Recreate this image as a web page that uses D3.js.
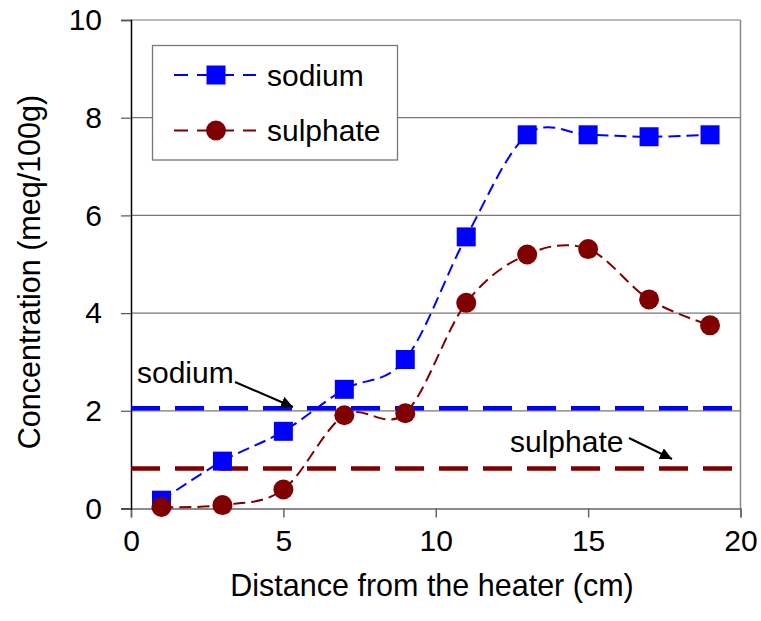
<!DOCTYPE html>
<html>
<head>
<meta charset="utf-8">
<script src="https://cdn.jsdelivr.net/npm/d3@7"></script>
<style>
  body { margin: 0; background: #fff; }
  text { font-family: "Liberation Sans", Arial, sans-serif; fill: #000; }
</style>
</head>
<body>
<svg id="chart" width="761" height="621"></svg>
<script>
// data
const distance = [1, 3, 5, 7, 9, 11, 13, 15, 17, 19]
const sodium = [0.17, 0.97, 1.58, 2.44, 3.05, 5.56, 7.65, 7.65, 7.61, 7.65]
const sulphate = [0.03, 0.07, 0.39, 1.91, 1.95, 4.21, 5.2, 5.31, 4.28, 3.75]
const initialLevels = [2.05, 0.82]   // sodium, sulphate (dashed horizontal lines)
const xTicks = [0, 5, 10, 15, 20]
const yTicks = [0, 2, 4, 6, 8, 10]

const blue = "#0000ff"
const maroon = "#800000"

const svg = d3.select("#chart")
const x = d3.scaleLinear().domain([0, 20]).range([131, 740.5])
const y = d3.scaleLinear().domain([0, 10]).range([508.5, 20])

// gridlines
svg.selectAll(".grid")
    .data(yTicks.filter(d => d > 0))
    .join("line")
    .attr("x1", x(0)).attr("x2", x(20))
    .attr("y1", d => y(d)).attr("y2", d => y(d))
    .attr("stroke", "#777").attr("stroke-width", 1.2)

// right border
svg.append("line")
    .attr("x1", x(20)).attr("x2", x(20)).attr("y1", y(10)).attr("y2", y(0))
    .attr("stroke", "#888").attr("stroke-width", 1.5)

// x axis
const xAxis = svg.append("g")
    .attr("transform", `translate(0,${y(0)})`)
    .call(d3.axisBottom(x).tickValues(xTicks).tickSize(9).tickPadding(12))
xAxis.select(".domain").attr("stroke", "#666").attr("stroke-width", 1.5)
xAxis.selectAll(".tick line").attr("stroke", "#666").attr("stroke-width", 1.5)
xAxis.selectAll("text").attr("font-size", 30).attr("font-family", "Liberation Sans, Arial, sans-serif").attr("fill", "#000")

// y axis
const yAxis = svg.append("g")
    .attr("transform", `translate(${x(0)},0)`)
    .call(d3.axisLeft(y).tickValues(yTicks).tickSize(10).tickPadding(19))
yAxis.select(".domain").attr("stroke", "#000").attr("stroke-width", 1.5)
yAxis.selectAll(".tick line").attr("stroke", "#555").attr("stroke-width", 1.2)
yAxis.selectAll("text").attr("font-size", 30).attr("font-family", "Liberation Sans, Arial, sans-serif").attr("fill", "#000")

// axis titles
svg.append("text")
    .attr("x", 432).attr("y", 596)
    .attr("text-anchor", "middle").attr("font-size", 30.5)
    .text("Distance from the heater (cm)")
svg.append("text")
    .attr("transform", "translate(40,272) rotate(-90)")
    .attr("text-anchor", "middle").attr("font-size", 30.5)
    .text("Concentration (meq/100g)")

// initial-level reference lines
svg.selectAll(".ref")
    .data(initialLevels)
    .join("line")
    .attr("x1", x(0)).attr("x2", x(20))
    .attr("y1", d => y(d)).attr("y2", d => y(d))
    .attr("stroke", (d, i) => i === 0 ? blue : maroon)
    .attr("stroke-width", 4.5)
    .attr("stroke-dasharray", "29,15")

// smoothed dashed series lines
const line = d3.line()
    .x(d => x(d[0])).y(d => y(d[1]))
    .curve(d3.curveCatmullRom.alpha(0))

const series = [
    { name: "sodium", values: sodium, color: blue },
    { name: "sulphate", values: sulphate, color: maroon }
]

series.forEach(s => {
    svg.append("path")
        .datum(distance.map((d, i) => [d, s.values[i]]))
        .attr("d", line)
        .attr("fill", "none")
        .attr("stroke", s.color)
        .attr("stroke-width", 2)
        .attr("stroke-dasharray", "12,6")
})

// markers
svg.selectAll(".sq")
    .data(distance)
    .join("rect")
    .attr("x", (d, i) => x(d) - 9.5)
    .attr("y", (d, i) => y(sodium[i]) - 9.5)
    .attr("width", 19).attr("height", 19)
    .attr("fill", blue)

svg.selectAll(".dot")
    .data(distance)
    .join("circle")
    .attr("cx", d => x(d))
    .attr("cy", (d, i) => y(sulphate[i]))
    .attr("r", 10)
    .attr("fill", maroon)

// annotations with arrows
svg.append("defs").append("marker")
    .attr("id", "arrow")
    .attr("viewBox", "0 0 10 10").attr("refX", 10).attr("refY", 5)
    .attr("markerWidth", 6).attr("markerHeight", 6)
    .attr("markerUnits", "strokeWidth")
    .attr("orient", "auto")
    .append("path").attr("d", "M0,0 L10,5 L0,10 z").attr("fill", "#000")

svg.append("text").attr("x", 137).attr("y", 383).attr("font-size", 30).text("sodium")
svg.append("line")
    .attr("x1", 235).attr("y1", 382).attr("x2", 293).attr("y2", 407)
    .attr("stroke", "#000").attr("stroke-width", 2).attr("marker-end", "url(#arrow)")

svg.append("text").attr("x", 510).attr("y", 452).attr("font-size", 30).text("sulphate")
svg.append("line")
    .attr("x1", 629).attr("y1", 438).attr("x2", 672).attr("y2", 459)
    .attr("stroke", "#000").attr("stroke-width", 2).attr("marker-end", "url(#arrow)")

// legend
const legend = svg.append("g")
legend.append("rect")
    .attr("x", 152.5).attr("y", 45.5).attr("width", 245).attr("height", 114.5)
    .attr("fill", "#fff").attr("stroke", "#777").attr("stroke-width", 1.3)

series.forEach((s, i) => {
    const ly = 75 + i * 55.5
    legend.append("line")
        .attr("x1", 174).attr("x2", 256).attr("y1", ly).attr("y2", ly)
        .attr("stroke", s.color).attr("stroke-width", 2)
        .attr("stroke-dasharray", "14,9")
    if (i === 0) {
        legend.append("rect")
            .attr("x", 216 - 9.5).attr("y", ly - 9.5).attr("width", 19).attr("height", 19)
            .attr("fill", s.color)
    } else {
        legend.append("circle").attr("cx", 216).attr("cy", ly).attr("r", 10).attr("fill", s.color)
    }
    legend.append("text")
        .attr("x", 267).attr("y", ly + 10.5)
        .attr("font-size", 30)
        .text(s.name)
})
</script>
</body>
</html>
